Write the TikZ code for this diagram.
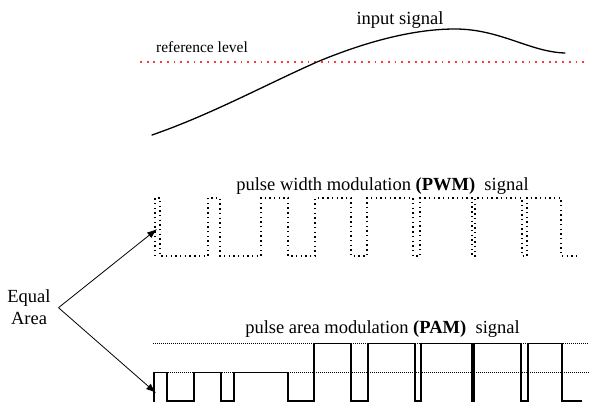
\documentclass[tikz,border=0pt]{standalone}
\usepackage{fontspec}
\setmainfont{Liberation Serif}
\usetikzlibrary{arrows.meta}
\definecolor{reflevel}{RGB}{250,60,60}
\begin{document}
\begin{tikzpicture}[x=1pt,y=-1pt,
  sig/.style={line width=1.3pt,line join=miter},
  pwmline/.style={line width=1.4pt,dash pattern=on 1.4pt off 3.3pt},
  guide/.style={line width=0.6pt,dash pattern=on 0.7pt off 1.3pt},
  redref/.style={reflevel,line width=1.8pt,dash pattern=on 1.8pt off 4.9pt},
  lbl/.style={inner sep=0pt,anchor=base,font=\fontsize{18.5}{20}\selectfont},
  small/.style={inner sep=0pt,anchor=base west,font=\fontsize{15.5}{17}\selectfont},
  ptr/.style={line width=0.8pt,-{Latex[length=10pt,width=7pt]}}]
\useasboundingbox (0,0) rectangle (589,407);
% input signal
\draw[redref] (140,61.7) -- (589,61.7);
\node[small] (reftext) at (156,52.5) {reference level};
\node[lbl] (intext) at (400,24) {input signal};
\draw[sig,line cap=round] (152,135) .. controls (210,115) and (265,85) .. (317,62)
  .. controls (360,44) and (410,29) .. (455,29)
  .. controls (500,29) and (530,52) .. (565,53);
% PWM
\node[lbl] (pwmtext) at (382.5,190) {pulse width modulation \textbf{(PWM)}\ \ signal};
\draw[pwmline] (155,256) -- (155,198) -- (160,198) -- (160,256) -- (208,256) -- (208,198) -- (220,198) -- (220,256)
  -- (261,256) -- (261,198) -- (288,198) -- (288,256) -- (315,256) -- (315,198) -- (351,198) -- (351,256)
  -- (367,256) -- (367,198) -- (413,198) -- (413,256) -- (420,256) -- (420,198) -- (472,198) -- (472,256)
  -- (475,256) -- (475,198) -- (522,198) -- (522,256) -- (527,256) -- (527,198) -- (561,198) -- (561,256) -- (580,256);
% PAM
\node[lbl] (pamtext) at (382.5,333) {pulse area modulation \textbf{(PAM)}\ \ signal};
\draw[guide] (153,343.3) -- (589,343.3);
\draw[guide] (154,372.3) -- (589,372.3);
\draw[sig] (154,402) -- (154,372.3) -- (167,372.3) -- (167,401) -- (194,401) -- (194,372.3) -- (221,372.3) -- (221,401)
  -- (234,401) -- (234,372.3) -- (288,372.3) -- (288,401) -- (314,401) -- (314,343.3) -- (351,343.3) -- (351,401)
  -- (368,401) -- (368,343.3) -- (415,343.3) -- (415,401) -- (421,401) -- (421,343.3) -- (472,343.3) -- (472,401)
  -- (474,401) -- (474,343.3) -- (521,343.3) -- (521,401) -- (528,401) -- (528,343.3) -- (562,343.3) -- (562,401) -- (582,401);
% Equal area
\node[lbl] (eq) at (29,302.7) {Equal};
\node[lbl] (ar) at (29,324) {Area};
\coordinate (apex) at (58.5,307.7);
\coordinate (pwmtip) at (157,229);
\coordinate (pamtip) at (156,393);
\draw[ptr] (apex) -- (pwmtip);
\draw[ptr] (apex) -- (pamtip);
\end{tikzpicture}
\end{document}
